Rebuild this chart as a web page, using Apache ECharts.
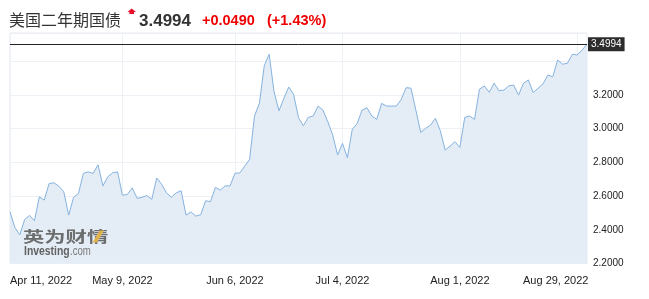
<!DOCTYPE html>
<html><head><meta charset="utf-8">
<script src="https://cdn.jsdelivr.net/npm/echarts@6/dist/echarts.min.js"></script>
<style>html,body{margin:0;padding:0;background:#fff}#c{width:649px;height:299px}</style>
</head><body><div id="c"></div>
<script>
const titleName = '美国二年期国债';
const lastText = '3.4994';
const changeText = '+0.0490';
const changePct = '(+1.43%)';

const yields = [
2.506, 2.414, 2.369, 2.461, 2.485, 2.453, 2.595, 2.576, 2.674, 2.678,
2.658, 2.625, 2.487, 2.592, 2.615, 2.734, 2.743, 2.734, 2.785, 2.660,
2.714, 2.737, 2.743, 2.605, 2.609, 2.648, 2.586, 2.592, 2.603, 2.580,
2.707, 2.670, 2.619, 2.592, 2.619, 2.631, 2.487, 2.506, 2.481, 2.489,
2.572, 2.566, 2.651, 2.635, 2.660, 2.660, 2.734, 2.737, 2.777, 2.817,
3.074, 3.149, 3.372, 3.440, 3.218, 3.105, 3.178, 3.246, 3.202, 3.064,
3.016, 3.066, 3.074, 3.133, 3.109, 3.040, 2.961, 2.843, 2.912, 2.827,
2.995, 3.030, 3.109, 3.123, 3.074, 3.054, 3.149, 3.133, 3.133, 3.133,
3.172, 3.242, 3.239, 3.109, 2.977, 3.001, 3.020, 3.060, 2.987, 2.872,
2.896, 2.922, 2.888, 3.066, 3.074, 3.054, 3.233, 3.252, 3.215, 3.268,
3.224, 3.228, 3.252, 3.258, 3.198, 3.268, 3.288, 3.213, 3.239, 3.264,
3.317, 3.307, 3.406, 3.381, 3.387, 3.440, 3.436, 3.465, 3.4994
];
const tickIndex = [0, 23, 46, 68, 92, 116];
const tickDates = ['Apr 11, 2022', 'May 9, 2022', 'Jun 6, 2022', 'Jul 4, 2022', 'Aug 1, 2022', 'Aug 29, 2022'];
const yTickLabels = ['2.2000', '2.4000', '2.6000', '2.8000', '3.0000', '3.2000'];

const categories = yields.map((_, i) => String(i));
const isTick = (i) => tickIndex.indexOf(i) >= 0;

const chart = echarts.init(document.getElementById('c'), null, {renderer: 'canvas'});
const FONT = '"Liberation Sans", Arial, sans-serif';
chart.setOption({
  animation: false,
  backgroundColor: '#fff',
  grid: {left: 10, right: 62, top: 33, bottom: 35.5, show: true, borderColor: '#e4e8ee', borderWidth: 1, backgroundColor: 'transparent', containLabel: false, outerBoundsMode: 'none'},
  xAxis: {
    type: 'category', data: categories, boundaryGap: false,
    axisLine: {show: false}, axisTick: {show: false},
    axisLabel: {
      interval: (i) => isTick(i), margin: 12, fontSize: 11, color: '#222', fontFamily: FONT,
      alignMinLabel: 'left', hideOverlap: false,
      formatter: (v) => {
        const k = tickIndex.indexOf(+v);
        if (k < 0) return '';
        return k === tickIndex.length - 1 ? '{r|' + tickDates[k] + '}' : tickDates[k];
      },
      rich: {r: {fontSize: 11, color: '#222', fontFamily: FONT, padding: [0, 43, 0, 0]}}
    },
    splitLine: {show: true, interval: (i) => isTick(i), lineStyle: {color: '#edf0f4', width: 1}}
  },
  yAxis: {
    type: 'value', position: 'right', min: 2.2, max: 3.566, interval: 0.2, scale: true,
    axisLine: {show: false}, axisTick: {show: false},
    axisLabel: {
      margin: 6, fontSize: 10, color: '#222', fontFamily: FONT, hideOverlap: false,
      formatter: (v) => { const s = v.toFixed(4); return yTickLabels.indexOf(s) >= 0 ? s : ''; }
    },
    splitLine: {show: true, lineStyle: {color: '#edf0f4', width: 1}}
  },
  series: [{
    type: 'line', data: yields, symbol: 'none', smooth: false,
    lineStyle: {color: '#86b3df', width: 1},
    areaStyle: {color: '#e4ecf5', opacity: 1},
    markLine: {
      silent: true, symbol: ['none', 'none'], animation: false,
      lineStyle: {color: '#222', type: 'solid', width: 1},
      label: {
        position: 'end', distance: 1, formatter: lastText, fontSize: 10, fontFamily: FONT,
        color: '#fff', backgroundColor: '#2c2c2c', padding: [2, 3, 2, 3]
      },
      emphasis: {disabled: true},
      data: [{yAxis: yields[yields.length - 1]}]
    }
  }],
  graphic: [
    {type: 'text', x: 9, y: 20, z: 100, style: {text: titleName, font: '16px "Noto Sans CJK SC"', fill: '#333', verticalAlign: 'middle', textVerticalAlign: 'middle'}},
    {type: 'polygon', z: 100, shape: {points: [[131.7, 8.5], [136, 12], [134, 12], [134, 14], [129.4, 14], [129.4, 12], [127.4, 12]]}, style: {fill: '#e8112d'}},
    {type: 'text', x: 139, y: 21, z: 100, style: {text: lastText, font: 'bold 17px ' + FONT, fill: '#333', verticalAlign: 'middle', textVerticalAlign: 'middle'}},
    {type: 'text', x: 202, y: 21, z: 100, style: {text: changeText, font: 'bold 14.5px ' + FONT, fill: '#ee0000', verticalAlign: 'middle', textVerticalAlign: 'middle'}},
    {type: 'text', x: 267, y: 21, z: 100, style: {text: changePct, font: 'bold 14.5px ' + FONT, fill: '#ee0000', verticalAlign: 'middle', textVerticalAlign: 'middle'}},
    {type: 'text', x: 23, y: 236, scaleX: 1.42, z: 100, style: {text: '英为财情', font: 'bold 15px "Noto Sans CJK SC"', fill: '#626262', verticalAlign: 'middle', textVerticalAlign: 'middle', opacity: 0.92}},
    {type: 'polygon', z: 101, shape: {points: [[92.5, 242.5], [97, 242.5], [104, 230.5], [99.5, 230.5]]}, style: {fill: '#e6b54c', opacity: 0.95}},
    {type: 'text', x: 24, y: 251.5, scaleX: 0.8, z: 100, style: {text: 'Investing', font: 'bold 13px ' + FONT, fill: '#626262', verticalAlign: 'middle', textVerticalAlign: 'middle'}},
    {type: 'text', x: 70, y: 252, scaleX: 0.8, z: 100, style: {text: '.com', font: '12px ' + FONT, fill: '#7a7a7a', verticalAlign: 'middle', textVerticalAlign: 'middle'}}
  ]
});
</script>
</body></html>
